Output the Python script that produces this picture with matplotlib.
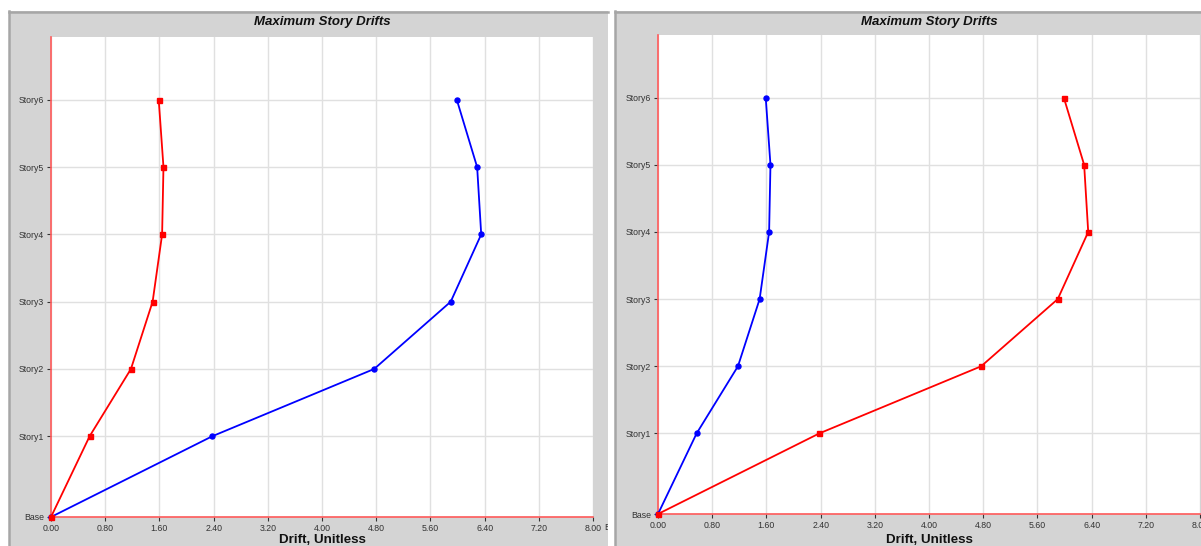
import numpy as np
import matplotlib.pyplot as plt
from matplotlib.patches import Rectangle

# story data
stories = ['Base', 'Story1', 'Story2', 'Story3', 'Story4', 'Story5', 'Story6']
elev = [0.0, 3.6, 6.6, 9.6, 12.6, 15.6, 18.6]
drift_big = [0.0, 2.38, 4.77, 5.90, 6.35, 6.29, 5.99]
drift_small = [0.0, 0.57, 1.18, 1.50, 1.64, 1.66, 1.59]
xticks = [0.0, 0.8, 1.6, 2.4, 3.2, 4.0, 4.8, 5.6, 6.4, 7.2, 8.0]

W, H = 1201, 546
plt.rcParams['font.family'] = ['Liberation Sans', 'DejaVu Sans']
fig = plt.figure(figsize=(W / 100, H / 100), dpi=100)
fig.patch.set_facecolor('white')

GRAY = '#d4d4d4'
EDGE = '#a6a6a6'


def fx(px):
    return px / W


def fy(py):
    return 1 - py / H


def panel(x0, x1):
    r = Rectangle((fx(x0), 0), fx(x1 - x0), fy(11), transform=fig.transFigure,
                  facecolor=GRAY, edgecolor='none', zorder=-5)
    fig.patches.append(r)
    fig.add_artist(plt.Line2D([fx(x0), fx(x0)], [0, fy(11)], color=EDGE, lw=1.8, zorder=-4))
    fig.add_artist(plt.Line2D([fx(x0), fx(x1)], [fy(11.5), fy(11.5)], color=EDGE, lw=1.8, zorder=-4))
    return r


def make_axes(x0, x1, ytop, ybot, series):
    ax = fig.add_axes([fx(x0), fy(ybot), fx(x1 - x0), (ybot - ytop) / H])
    ax.set_zorder(1)
    ax.set_facecolor('white')
    ax.set_xlim(0, 8.0)
    ax.set_ylim(0, 21.4)
    ax.set_xticks(xticks)
    ax.set_xticklabels(['%.2f' % v for v in xticks])
    ax.set_yticks(elev)
    ax.set_yticklabels(stories)
    ax.grid(True, color='#e0e0e0', lw=1.0)
    ax.set_axisbelow(True)
    for s in ['top', 'right']:
        ax.spines[s].set_visible(False)
    for s in ['left', 'bottom']:
        ax.spines[s].set_color('#ff5a5a')
        ax.spines[s].set_linewidth(1.2)
    ax.tick_params(length=3, width=0.8, color='#333333', labelsize=6.3,
                   labelcolor='#333333', pad=2)
    for vals, col, mk in series:
        ax.plot(vals, elev, color=col, lw=1.3, marker=mk, markersize=3.6,
                clip_on=False, zorder=3)
    return ax


panel(9, 608)
panel(615, 1201)

make_axes(51, 593, 37, 517, [(drift_big, '#0000ff', 'o'), (drift_small, '#ff0000', 's')])
make_axes(658, 1200, 35, 514, [(drift_small, '#0000ff', 'o'), (drift_big, '#ff0000', 's')])

for cx in [322, 929]:
    fig.text(fx(cx), fy(22), 'Maximum Story Drifts', ha='center', va='center',
             fontsize=9.5, fontweight='bold', fontstyle='italic', color='#111111')
    fig.text(fx(cx), fy(534), 'Drift, Unitless', ha='center', va='top',
             fontsize=9.6, fontweight='bold', color='#111111')

# exponent label clipped at the left panel edge
t = fig.text(fx(604), fy(528), 'E-03', ha='left', va='center', fontsize=6.3, color='#333333')
clip = Rectangle((0, 0), fx(608), 1, transform=fig.transFigure, visible=False)
fig.add_artist(clip)
t.set_clip_path(clip)

fig.savefig('out.png', dpi=100)
